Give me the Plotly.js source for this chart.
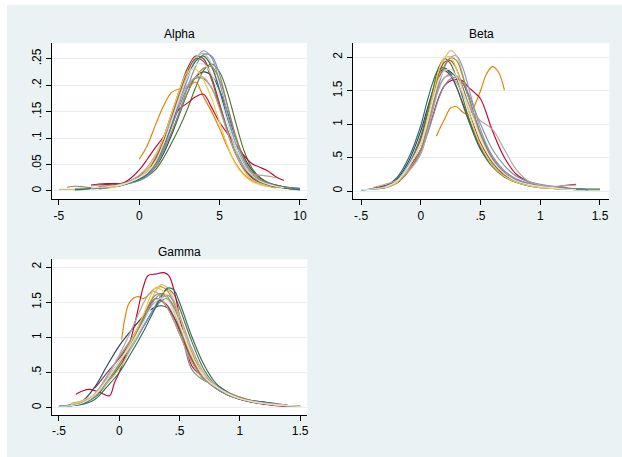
<!DOCTYPE html>
<html>
<head>
<meta charset="utf-8">
<script src="https://cdn.plot.ly/plotly-3.0.1.min.js"></script>
<style>html,body{margin:0;padding:0;background:#fff;}#chart{width:622px;height:457px;}</style>
</head>
<body>
<div id="chart"></div>
<script>
// ---------- palette (Stata s2color order) ----------
const seriesNames = ["navy","maroon","forest_green","dkorange","teal","cranberry","lavender","khaki","sienna","emidblue","emerald","brown","erose","gold","bluishgray"];
const seriesColors = ["#1a476f","#90353b","#55752f","#e37e00","#6e8e84","#c10534","#938dd2","#cac27e","#a0522d","#7b92a8","#2d6d66","#9c8847","#bfa19c","#f2c94c","#d9e6eb"];

// ---------- Alpha ----------
const alphaX = [-5,-4.5,-4,-3.5,-3,-2.5,-2,-1.5,-1,-0.5,0,0.5,1,1.5,2,2.5,3,3.5,4,4.5,5,5.5,6,6.5,7,7.5,8,8.5,9,9.5,10];
const alphaNavy      = [null,null,0.003,0.004,0.005,0.006,0.008,0.010,0.012,0.016,0.022,0.030,0.045,0.070,0.105,0.145,0.185,0.215,0.225,0.218,0.190,0.148,0.100,0.065,0.040,0.025,0.016,0.011,0.008,0.006,0.005];
const alphaMaroon    = [null,null,null,null,0.010,0.012,0.012,0.011,0.014,0.020,0.028,0.040,0.062,0.100,0.145,0.190,0.232,0.255,0.250,0.215,0.165,0.115,0.072,0.042,0.025,0.016,0.011,0.008,0.006,0.004,0.003];
const alphaGreen     = [null,null,null,null,null,0.004,0.006,0.008,0.012,0.016,0.020,0.028,0.040,0.062,0.090,0.120,0.155,0.195,0.228,0.240,0.225,0.185,0.130,0.078,0.044,0.026,0.016,0.011,0.008,0.005,0.003];
const alphaOrange    = [null,null,null,null,null,null,null,null,null,null,0.060,0.086,0.124,0.160,0.186,0.193,0.195,0.206,0.178,0.150,0.118,0.082,0.052,0.032,0.020,0.013,0.009,0.006,null,null,null];
const alphaTeal      = [null,null,0.004,0.005,0.006,0.007,0.008,0.010,0.013,0.018,0.025,0.035,0.055,0.085,0.120,0.160,0.195,0.213,0.212,0.195,0.160,0.115,0.075,0.048,0.030,0.020,0.013,0.009,0.007,0.005,0.003];
const alphaRed       = [null,null,null,null,0.011,0.013,0.014,0.014,0.015,0.025,0.040,0.060,0.082,0.102,0.130,0.155,0.166,0.178,0.183,0.158,0.130,0.108,0.088,0.068,0.052,0.045,0.038,0.027,0.020,null,null];
const alphaLavender  = [null,null,null,0.004,0.005,0.007,0.009,0.011,0.013,0.017,0.022,0.030,0.050,0.080,0.120,0.165,0.210,0.248,0.265,0.252,0.205,0.145,0.090,0.052,0.030,0.018,0.012,0.008,0.006,0.004,null];
const alphaKhaki     = [0.003,0.003,0.003,0.004,0.006,0.007,0.008,0.010,0.013,0.018,0.025,0.035,0.055,0.090,0.135,0.180,0.222,0.252,0.260,0.240,0.190,0.130,0.075,0.040,0.022,0.014,0.010,0.007,0.005,null,null];
const alphaSienna    = [null,null,null,null,null,0.008,0.010,0.012,0.015,0.020,0.028,0.040,0.060,0.095,0.140,0.185,0.225,0.250,0.245,0.210,0.160,0.110,0.070,0.043,0.027,0.018,0.012,0.008,0.006,null,null];
const alphaEmidblue  = [null,null,null,null,0.004,0.005,0.006,0.008,0.011,0.015,0.020,0.028,0.045,0.075,0.110,0.150,0.195,0.235,0.258,0.255,0.220,0.160,0.100,0.058,0.033,0.020,0.013,0.009,0.006,0.004,0.003];
const alphaEmerald   = [null,null,0.002,0.003,0.005,0.006,0.007,0.009,0.012,0.016,0.022,0.032,0.052,0.085,0.125,0.172,0.215,0.245,0.255,0.235,0.190,0.135,0.085,0.050,0.030,0.019,0.013,0.009,0.006,0.004,0.002];
const alphaBrown     = [null,0.007,0.009,0.008,0.006,0.005,0.007,0.010,0.014,0.020,0.026,0.035,0.050,0.078,0.110,0.148,0.185,0.215,0.232,0.235,0.210,0.160,0.105,0.062,0.036,0.022,0.015,0.010,0.007,0.005,null];
const alphaErose     = [null,null,null,null,0.010,0.011,0.010,0.010,0.013,0.020,0.030,0.045,0.068,0.100,0.135,0.170,0.200,0.215,0.215,0.195,0.155,0.110,0.070,0.045,0.032,0.030,0.028,0.025,null,null,null];
const alphaGold      = [null,null,null,null,null,null,0.005,0.008,0.012,0.018,0.026,0.040,0.065,0.100,0.145,0.190,0.225,0.230,0.210,0.175,0.130,0.085,0.050,0.030,0.018,0.012,0.008,null,null,null,null];
const alphaGray      = [null,null,null,null,0.006,0.007,0.008,0.010,0.013,0.018,0.025,0.035,0.055,0.088,0.130,0.175,0.215,0.238,0.240,0.220,0.180,0.130,0.085,0.050,0.030,0.019,0.013,0.009,0.006,null,null];

// ---------- Beta ----------
const betaX = [-0.5,-0.4,-0.3,-0.2,-0.1,0,0.05,0.1,0.15,0.2,0.25,0.3,0.35,0.4,0.45,0.5,0.6,0.7,0.8,0.9,1.0,1.1,1.2,1.3,1.4,1.5];
const betaNavy     = [0.02,0.03,0.07,0.18,0.45,0.90,1.20,1.50,1.75,1.83,1.78,1.70,1.62,1.40,1.12,0.85,0.48,0.27,0.16,0.11,0.08,0.06,0.04,0.03,0.02,null];
const betaMaroon   = [null,0.04,0.08,0.15,0.38,0.78,1.10,1.42,1.70,1.80,1.72,1.55,1.32,1.08,0.86,0.66,0.38,0.22,0.13,0.08,0.05,0.04,0.03,0.02,null,null];
const betaGreen    = [0.02,0.03,0.06,0.15,0.40,0.82,1.15,1.50,1.85,1.98,1.90,1.68,1.40,1.10,0.85,0.64,0.38,0.22,0.13,0.08,0.06,0.04,0.03,0.02,0.02,0.02];
const betaOrangeX  = [0.13,0.2,0.25,0.3,0.35,0.4,0.45,0.5,0.55,0.6,0.65,0.7];
const betaOrange   = [0.82,1.08,1.24,1.26,1.18,1.14,1.28,1.50,1.75,1.86,1.78,1.51];
const betaTeal     = [0.02,0.03,0.06,0.16,0.40,0.75,1.02,1.30,1.55,1.70,1.75,1.72,1.55,1.30,1.08,0.85,0.52,0.30,0.18,0.11,0.07,0.05,0.04,0.03,0.02,null];
const betaRed      = [null,0.04,0.07,0.15,0.35,0.62,0.85,1.12,1.40,1.58,1.65,1.67,1.65,1.55,1.47,1.38,0.90,0.50,0.25,0.14,0.08,0.06,0.08,0.10,null,null];
const betaLavender = [0.02,0.03,0.05,0.12,0.32,0.62,0.90,1.22,1.58,1.85,2.00,2.02,1.85,1.55,1.22,0.92,0.52,0.30,0.18,0.12,0.09,0.07,0.05,0.03,0.02,null];
const betaKhaki    = [0.02,0.03,0.06,0.14,0.36,0.70,1.00,1.35,1.72,1.98,2.10,2.02,1.75,1.40,1.08,0.82,0.45,0.26,0.15,0.09,0.06,0.04,0.03,0.02,0.02,0.02];
const betaSienna   = [null,0.04,0.07,0.15,0.38,0.75,1.05,1.40,1.75,1.93,1.95,1.82,1.55,1.22,0.95,0.72,0.42,0.24,0.14,0.09,0.06,0.05,0.04,0.03,null,null];
const betaEmidblue = [0.02,0.03,0.05,0.12,0.30,0.58,0.82,1.10,1.38,1.58,1.68,1.70,1.62,1.45,1.22,1.00,0.62,0.38,0.22,0.14,0.10,0.07,0.05,0.03,0.02,null];
const betaEmerald  = [0.02,0.03,0.07,0.20,0.50,0.98,1.32,1.62,1.82,1.84,1.75,1.55,1.30,1.05,0.82,0.62,0.36,0.21,0.13,0.09,0.07,0.05,0.04,0.03,0.03,0.03];
const betaBrown    = [null,0.03,0.05,0.12,0.30,0.62,0.92,1.25,1.62,1.88,1.99,1.95,1.72,1.42,1.12,0.86,0.48,0.27,0.16,0.10,0.07,0.05,0.04,0.03,null,null];
const betaErose    = [null,0.05,0.10,0.16,0.30,0.55,0.85,1.20,1.52,1.70,1.72,1.62,1.45,1.28,1.15,1.05,0.92,0.62,0.32,0.15,0.09,0.07,0.08,0.09,null,null];
const betaGold     = [null,null,0.05,0.13,0.36,0.72,1.05,1.42,1.80,2.00,2.00,1.82,1.52,1.20,0.90,0.68,0.38,0.22,0.13,0.08,0.05,0.04,0.03,null,null,null];
const betaGray     = [0.02,0.03,0.06,0.15,0.38,0.72,1.00,1.35,1.65,1.80,1.82,1.70,1.50,1.25,1.00,0.78,0.45,0.26,0.15,0.10,0.07,0.05,0.03,0.02,null,null];

// ---------- Gamma ----------
const gammaX = [-0.5,-0.4,-0.3,-0.2,-0.1,0,0.1,0.2,0.25,0.3,0.35,0.4,0.45,0.5,0.6,0.7,0.8,0.9,1,1.1,1.2,1.3,1.4,1.5];
const gammaNavy     = [0.02,0.04,0.10,0.30,0.60,0.88,1.10,1.30,1.38,1.43,1.45,1.42,1.30,1.12,0.72,0.45,0.30,0.20,0.13,0.10,0.08,0.05,0.03,0.02];
const gammaMaroon   = [null,null,null,0.28,0.50,0.70,0.95,1.25,1.40,1.50,1.52,1.45,1.30,1.10,0.70,0.42,0.28,0.18,0.12,0.08,0.06,0.04,0.03,null];
const gammaGreen    = [0.02,0.03,0.06,0.15,0.35,0.58,0.85,1.15,1.30,1.45,1.60,1.68,1.62,1.42,0.95,0.55,0.32,0.20,0.13,0.09,0.06,0.04,0.03,0.02];
const gammaOrangeX  = [0.02,0.05,0.08,0.12,0.16,0.2,0.25,0.3,0.35,0.4,0.45,0.5,0.6,0.7,0.8,0.9,1,1.1,1.2,1.3,1.4,1.5];
const gammaOrange   = [0.97,1.30,1.48,1.56,1.58,1.55,1.62,1.70,1.72,1.66,1.50,1.28,0.80,0.45,0.28,0.18,0.12,0.08,0.05,0.04,0.03,0.02];
const gammaTeal     = [0.02,0.03,0.06,0.16,0.38,0.62,0.88,1.15,1.30,1.42,1.52,1.55,1.45,1.20,0.55,0.39,0.33,0.22,0.13,0.09,0.06,0.04,0.03,0.02];
const gammaRedX     = [-0.36,-0.3,-0.25,-0.2,-0.15,-0.08,-0.04,0,0.05,0.1,0.15,0.2,0.24,0.3,0.37,0.41,0.45,0.5,0.55,0.6,0.65,0.7,0.8,0.9,1,1.1,1.2,1.3,1.4,1.5];
const gammaRed      = [0.19,0.24,0.26,0.24,0.21,0.17,0.35,0.50,0.75,1.00,1.35,1.72,1.88,1.90,1.92,1.88,1.70,1.30,0.90,0.60,0.50,0.45,0.30,0.20,0.12,0.08,0.05,0.03,0.02,0.02];
const gammaLavender = [0.02,0.04,0.08,0.20,0.42,0.65,0.88,1.15,1.30,1.45,1.56,1.60,1.52,1.32,0.85,0.50,0.30,0.19,0.12,0.08,0.06,0.04,0.03,0.02];
const gammaKhaki    = [null,0.04,0.09,0.18,0.35,0.55,0.85,1.20,1.45,1.65,1.75,1.70,1.55,1.30,0.82,0.50,0.32,0.22,0.15,0.10,0.06,0.04,0.03,0.02];
const gammaSienna   = [0.02,0.03,0.07,0.18,0.40,0.65,0.95,1.30,1.45,1.55,1.52,1.42,1.25,1.05,0.68,0.42,0.28,0.18,0.12,0.08,0.06,0.04,0.03,0.02];
const gammaEmidblue = [0.02,0.03,0.07,0.20,0.45,0.72,0.98,1.25,1.42,1.55,1.62,1.58,1.42,1.20,0.75,0.45,0.28,0.18,0.12,0.09,0.07,0.05,0.03,0.02];
const gammaEmerald  = [0.02,0.03,0.05,0.12,0.30,0.50,0.78,1.08,1.25,1.42,1.58,1.70,1.68,1.50,1.02,0.62,0.35,0.22,0.14,0.10,0.08,0.06,0.03,0.02];
const gammaBrown    = [null,0.06,0.10,0.18,0.38,0.62,0.92,1.28,1.48,1.60,1.62,1.55,1.38,1.15,0.72,0.43,0.30,0.22,0.15,0.10,0.06,0.04,0.03,0.02];
const gammaErose    = [null,null,0.08,0.20,0.45,0.75,1.10,1.48,1.62,1.65,1.55,1.42,1.25,1.05,0.65,0.40,0.30,0.20,0.13,0.09,0.07,0.05,0.03,null];
const gammaGold     = [null,0.05,0.10,0.20,0.40,0.65,0.95,1.32,1.55,1.70,1.68,1.55,1.38,1.18,0.75,0.45,0.30,0.20,0.13,0.09,0.06,0.04,0.03,0.02];
const gammaGray     = [0.02,0.03,0.07,0.18,0.40,0.65,0.90,1.20,1.38,1.50,1.56,1.52,1.40,1.20,0.75,0.45,0.30,0.20,0.13,0.09,0.06,0.04,0.03,0.02];

// ---------- tick labels ----------
const alphaXTicks = [-5,0,5,10];
const alphaXText  = ["-5","0","5","10"];
const alphaYTicks = [0,0.05,0.1,0.15,0.2,0.25];
const alphaYText  = ["0",".05",".1",".15",".2",".25"];
const betaXTicks  = [-0.5,0,0.5,1,1.5];
const betaXText   = ["-.5","0",".5","1","1.5"];
const betaYTicks  = [0,0.5,1,1.5,2];
const betaYText   = ["0",".5","1","1.5","2"];
const gammaXTicks = betaXTicks, gammaXText = betaXText, gammaYTicks = betaYTicks, gammaYText = betaYText;
const panelTitles = ["Alpha","Beta","Gamma"];

// ---------- build traces ----------
const panels = [
  {xa:"x",  ya:"y",  grid: alphaX, series:[alphaNavy,alphaMaroon,alphaGreen,alphaOrange,alphaTeal,alphaRed,alphaLavender,alphaKhaki,alphaSienna,alphaEmidblue,alphaEmerald,alphaBrown,alphaErose,alphaGold,alphaGray], xs:{}},
  {xa:"x2", ya:"y2", grid: betaX,  series:[betaNavy,betaMaroon,betaGreen,betaOrange,betaTeal,betaRed,betaLavender,betaKhaki,betaSienna,betaEmidblue,betaEmerald,betaBrown,betaErose,betaGold,betaGray], xs:{3:betaOrangeX}},
  {xa:"x3", ya:"y3", grid: gammaX, series:[gammaNavy,gammaMaroon,gammaGreen,gammaOrange,gammaTeal,gammaRed,gammaLavender,gammaKhaki,gammaSienna,gammaEmidblue,gammaEmerald,gammaBrown,gammaErose,gammaGold,gammaGray], xs:{3:gammaOrangeX,5:gammaRedX}}
];
const traces = [];
panels.forEach(p => {
  p.series.forEach((ys, i) => {
    traces.push({
      type: "scatter", mode: "lines",
      x: p.xs[i] || p.grid, y: ys,
      xaxis: p.xa, yaxis: p.ya,
      name: seriesNames[i],
      connectgaps: false,
      line: {color: seriesColors[i], width: 1.15, shape: "spline", smoothing: 1},
      hoverinfo: "skip"
    });
  });
});

const W = 622, H = 457;
const fx = px => px / W, fy = py => 1 - py / H;
const tickFont = {family: "Liberation Sans, Arial, sans-serif", size: 12, color: "#000"};
function xAxis(domain, range, vals, text, anchor) {
  return {domain, range, anchor, tickmode:"array", tickvals: vals, ticktext: text,
    showline:true, linecolor:"#000", linewidth:1, ticks:"outside", ticklen:5, tickwidth:1, tickcolor:"#000",
    showgrid:false, zeroline:false, tickfont: tickFont, fixedrange:true};
}
function yAxis(domain, range, vals, text, anchor) {
  return {domain, range, anchor, tickmode:"array", tickvals: vals, ticktext: text, tickangle:-90,
    showline:true, linecolor:"#000", linewidth:1, ticks:"outside", ticklen:5, tickwidth:1, tickcolor:"#000",
    showgrid:true, gridcolor:"#e6eff1", gridwidth:1, zeroline:false, tickfont: tickFont, fixedrange:true};
}

const layout = {
  width: W, height: H,
  margin: {l:0, r:0, t:0, b:0},
  paper_bgcolor: "#eaf2f3",
  plot_bgcolor: "#ffffff",
  showlegend: false,
  hovermode: false,
  xaxis:  xAxis([fx(51.7), fx(307)],   [-5.45, 10.44], alphaXTicks, alphaXText, "y"),
  yaxis:  yAxis([fy(199.3), fy(43)],   [-0.0157, 0.2797], alphaYTicks, alphaYText, "x"),
  xaxis2: xAxis([fx(352.7), fx(609.3)], [-0.57, 1.578], betaXTicks, betaXText, "y2"),
  yaxis2: yAxis([fy(199.3), fy(43)],   [-0.124, 2.213], betaYTicks, betaYText, "x2"),
  xaxis3: xAxis([fx(51.7), fx(307.3)], [-0.56, 1.56], gammaXTicks, gammaXText, "y3"),
  yaxis3: yAxis([fy(415), fy(259.3)],  [-0.104, 2.11], gammaYTicks, gammaYText, "x3"),
  shapes: [
    {type:"rect", xref:"paper", yref:"paper", x0:0, x1:1, y0:fy(5), y1:1, fillcolor:"#ffffff", line:{width:0}, layer:"below"},
    {type:"rect", xref:"paper", yref:"paper", x0:0, x1:fx(7), y0:0, y1:1, fillcolor:"#ffffff", line:{width:0}, layer:"below"}
  ],
  annotations: [
    {text: panelTitles[0], xref:"paper", yref:"paper", x: fx(179.4), y: fy(34), xanchor:"center", yanchor:"middle", showarrow:false, font:{family:"Liberation Sans, Arial, sans-serif", size:12, color:"#000"}},
    {text: panelTitles[1], xref:"paper", yref:"paper", x: fx(481), y: fy(34), xanchor:"center", yanchor:"middle", showarrow:false, font:{family:"Liberation Sans, Arial, sans-serif", size:12, color:"#000"}},
    {text: panelTitles[2], xref:"paper", yref:"paper", x: fx(179.5), y: fy(252), xanchor:"center", yanchor:"middle", showarrow:false, font:{family:"Liberation Sans, Arial, sans-serif", size:12, color:"#000"}}
  ]
};

Plotly.newPlot("chart", traces, layout, {staticPlot: true, displayModeBar: false});
</script>
</body>
</html>
